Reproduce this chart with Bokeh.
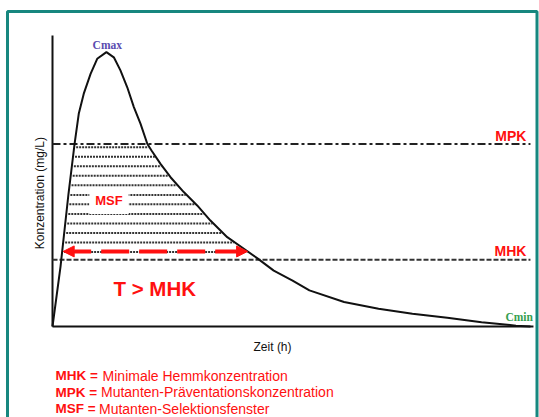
import numpy as np
from bokeh.plotting import figure
from bokeh.models import Range1d, Label, Arrow, NormalHead, BoxAnnotation
from bokeh.embed import file_html
from bokeh.resources import INLINE

# ---- data ----
time_h = [0.0, 0.40, 0.80, 1.10, 1.31, 1.56, 1.90, 2.23, 2.69, 3.06, 3.39, 3.73,
          4.06, 4.39, 4.73, 4.94, 5.39, 5.89, 6.55, 7.22, 7.88, 8.72, 9.55, 10.21,
          11.04, 11.98, 12.82, 14.55, 16.27, 17.96, 19.70, 21.41, 23.13, 23.85]
conc = [0.0, 2.06, 4.57, 6.27, 7.31, 8.00, 8.68, 9.20, 9.43, 9.25, 8.80, 8.22,
        7.54, 6.97, 6.28, 6.05, 5.59, 5.13, 4.62, 4.16, 3.64, 3.07, 2.67, 2.35,
        1.92, 1.58, 1.24, 0.84, 0.61, 0.44, 0.30, 0.15, 0.03, 0.0]
MPK = 6.27
MHK = 2.29
hatch_levels = [6.16, 5.83, 5.51, 5.18, 4.85, 4.52, 4.20, 3.87, 3.54, 3.21, 2.89, 2.56]
arrow_level = 2.58
x_axis_end = 24.0      # hours
y_axis_end = 10.0      # mg/L
threshold_end = 23.85
legend_keys = ["MHK =", "MPK =", "MSF ="]
legend_texts = ["Minimale Hemmkonzentration", "Mutanten-Präventationskonzentration",
                "Mutanten-Selektionsfenster"]

RED = "#ff1010"
SANS = "Liberation Sans"
SERIF = "Liberation Serif"

W, H = 539, 417
px_per_h, px_per_c = 20.04, 29.1
x0_px, y0_px = 52, 326
p = figure(width=W, height=H, output_backend="svg", toolbar_location=None,
           x_range=Range1d(-x0_px / px_per_h, (W - x0_px) / px_per_h),
           y_range=Range1d(-(H - y0_px) / px_per_c, y0_px / px_per_c),
           min_border=0, x_axis_location=None, y_axis_location=None,
           background_fill_color="white", border_fill_color="white",
           outline_line_color=None)
p.xgrid.visible = False
p.ygrid.visible = False

# teal frame around the figure
p.add_layout(BoxAnnotation(left=7, right=536.5, top=11, bottom=440,
                           left_units="canvas", right_units="canvas",
                           top_units="canvas", bottom_units="canvas",
                           fill_color=None, fill_alpha=0,
                           line_color="#17877f", line_alpha=1.0, line_width=3))

# axes lines
p.segment(x0=[0, 0], y0=[0, 0], x1=[x_axis_end, 0], y1=[0, y_axis_end],
          line_color="#111111", line_width=2)

# hatch rows of the selection window
t = np.array(time_h)
c = np.array(conc)
pk = int(np.argmax(c))
rise_t, rise_c = t[:pk + 1], c[:pk + 1]
fall_t, fall_c = t[pk:][::-1], c[pk:][::-1]
xs, ys = [], []
for lv in hatch_levels:
    xa = float(np.interp(lv, rise_c, rise_t)) + 0.1
    xb = float(np.interp(lv, fall_c, fall_t)) - 0.05
    xs.append([xa, xb])
    ys.append([lv, lv])
p.multi_line(xs, ys, line_color="#333333", line_width=2, line_dash="2 1")

# MPK and MHK lines
p.segment(x0=[0], y0=[MPK], x1=[threshold_end], y1=[MPK], line_color="#222222",
          line_width=2, line_dash="8 3 3 3")
p.segment(x0=[0], y0=[MHK], x1=[threshold_end], y1=[MHK], line_color="#333333",
          line_width=2, line_dash="5 2")

# concentration curve
p.line(time_h, conc, line_color="#111111", line_width=2)

# arrow T > MHK
a0 = float(np.interp(arrow_level, rise_c, rise_t))
a1 = float(np.interp(arrow_level, fall_c, fall_t))
p.add_layout(Arrow(start=NormalHead(size=11, fill_color=RED, line_color=RED),
                   end=NormalHead(size=11, fill_color=RED, line_color=RED),
                   x_start=a0 + 0.05, y_start=arrow_level, x_end=a1, y_end=arrow_level,
                   line_color=RED, line_width=4, line_dash="28 10"))


def lab(x, y, text, size, color=RED, bold=True, font=SANS, align="left",
        baseline="alphabetic", angle=0, bg=None, pad=0):
    p.add_layout(Label(x=x, y=y, text=text, text_font=font, text_font_size=size,
                       text_font_style="bold" if bold else "normal",
                       text_color=color, text_align=align, text_baseline=baseline,
                       angle=angle, background_fill_color=bg, padding=pad))


lab(2.0, 9.66, "Cmax", "11.5px", color="#5a4caf", font=SERIF)
lab(22.6, 0.31, "Cmin", "11.5px", color="#35a04f", font=SERIF)
lab(23.65, 6.56, "MPK", "14px", align="right")
lab(23.65, 2.58, "MHK", "14px", align="right")
lab(2.82, 4.33, "MSF", "13px", align="center", baseline="middle", bg="white", pad=6)
lab(3.04, 1.31, "T > MHK", "20.5px")
lab(10.98, -0.72, "Zeit (h)", "12px", color="#111111", bold=False, align="center")
lab(-0.60, 4.64, "Konzentration  (mg/L)", "12px", color="#111111", bold=False,
    align="center", baseline="middle", angle=np.pi / 2)

key_x = 0.15
text_x = [2.50, 2.42, 2.32]
rows_y = [-1.69, -2.26, -2.82]
for k, txt, tx, ry in zip(legend_keys, legend_texts, text_x, rows_y):
    lab(key_x, ry, k, "13.5px")
    lab(tx, ry, txt, "14px", bold=False)

open("out.html", "w").write(file_html(p, INLINE))
